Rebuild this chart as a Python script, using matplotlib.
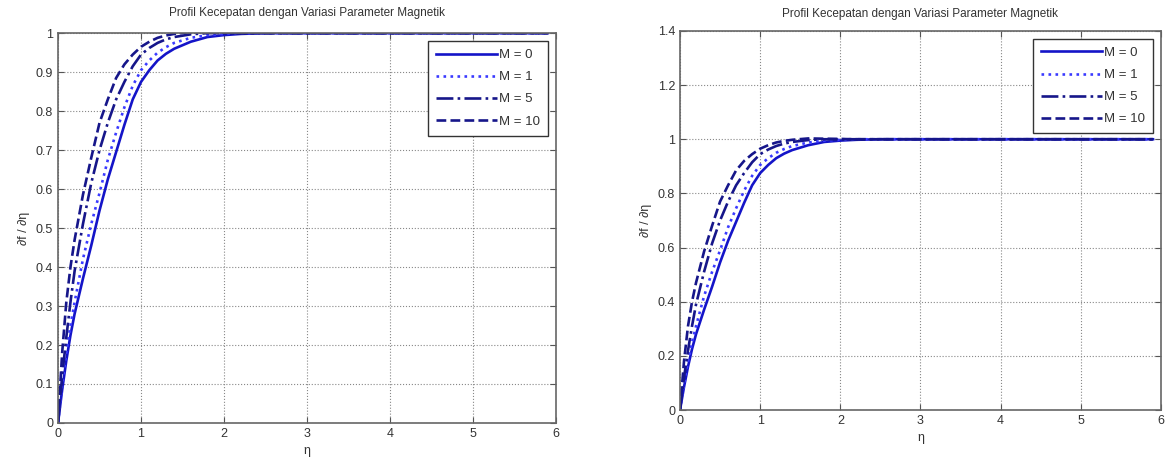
import numpy as np
import matplotlib
matplotlib.use("Agg")
import matplotlib.pyplot as plt
from matplotlib.ticker import FuncFormatter

plt.rcParams['font.family'] = ['Liberation Sans', 'DejaVu Sans']

# eta grid and velocity profiles df/deta
eta = [0, 0.05, 0.1, 0.15, 0.2, 0.3, 0.4, 0.5, 0.6, 0.7, 0.8, 0.9, 1.0, 1.1,
       1.2, 1.3, 1.4, 1.6, 1.8, 2.0, 2.2, 2.5, 3.0, 4.0, 5.0, 5.9]
fp_m0 = [0, 0.085, 0.16, 0.225, 0.28, 0.37, 0.455, 0.545, 0.625, 0.695, 0.765,
         0.83, 0.875, 0.905, 0.93, 0.947, 0.96, 0.978, 0.99, 0.995, 0.998,
         1.0, 1.0, 1.0, 1.0, 1.0]
fp_m1 = [0, 0.095, 0.18, 0.25, 0.31, 0.42, 0.51, 0.59, 0.675, 0.745, 0.81,
         0.865, 0.905, 0.93, 0.95, 0.964, 0.975, 0.988, 0.995, 0.998, 1.0,
         1.0, 1.0, 1.0, 1.0, 1.0]
fp_m5 = [0, 0.12, 0.22, 0.31, 0.39, 0.51, 0.615, 0.70, 0.77, 0.83, 0.875,
         0.915, 0.945, 0.962, 0.975, 0.984, 0.99, 0.997, 1.0, 1.0, 1.0,
         1.0, 1.0, 1.0, 1.0, 1.0]
fp_m10 = [0, 0.18, 0.31, 0.40, 0.47, 0.585, 0.68, 0.77, 0.83, 0.885, 0.92,
          0.945, 0.965, 0.978, 0.988, 0.994, 0.998, 1.003, 1.002, 1.001, 1.0,
          1.0, 1.0, 1.0, 1.0, 1.0]

labels = ["M = 0", "M = 1", "M = 5", "M = 10"]
series = [fp_m0, fp_m1, fp_m5, fp_m10]
styles = ["-", ":", "-.", "--"]
colors = ["#1414c8", "#3a3aff", "#16168a", "#16168a"]

title = "Profil Kecepatan dengan Variasi Parameter Magnetik"
txt = "#333333"

fig = plt.figure(figsize=(11.72, 4.68), dpi=100)
ax1 = fig.add_axes([0.0495, 0.0962, 0.425, 0.833])
ax2 = fig.add_axes([0.5802, 0.1239, 0.4104, 0.810])


def draw(ax, ymax, ystep, pad):
    for y, ls, c, lab in zip(series, styles, colors, labels):
        ax.plot(eta, y, ls, color=c, lw=1.9, label=lab)
    ax.set_xlim(0, 6)
    ax.set_ylim(0, ymax)
    ax.set_xticks(np.arange(0, 7, 1))
    ax.set_yticks(np.arange(0, ymax + ystep / 2, ystep))
    fmt = FuncFormatter(lambda v, p: "%g" % round(v, 2))
    ax.xaxis.set_major_formatter(fmt)
    ax.yaxis.set_major_formatter(fmt)
    ax.grid(True, ls=":", color="#888888", lw=0.8)
    ax.tick_params(direction="in", top=True, right=True, labelsize=9,
                   colors="#555555", labelcolor=txt, length=4)
    for s in ax.spines.values():
        s.set_color("#666666")
        s.set_linewidth(1.2)
    ax.set_title(title, fontsize=8.5, color=txt, pad=pad)
    ax.set_xlabel("η", fontsize=9, color=txt)
    ax.set_ylabel("∂f / ∂η", fontsize=9, color=txt)
    leg = ax.legend(loc="upper right", fontsize=9.5, fancybox=False,
                    handlelength=4.6, borderaxespad=0.6, labelspacing=0.75,
                    handletextpad=0.2, borderpad=0.6, framealpha=1)
    leg.get_frame().set_edgecolor("#333333")
    leg.get_frame().set_linewidth(1.0)
    for t in leg.get_texts():
        t.set_color(txt)


draw(ax1, 1.0, 0.1, 12)
draw(ax2, 1.4, 0.2, 10)

fig.savefig("out.png", dpi=100)
